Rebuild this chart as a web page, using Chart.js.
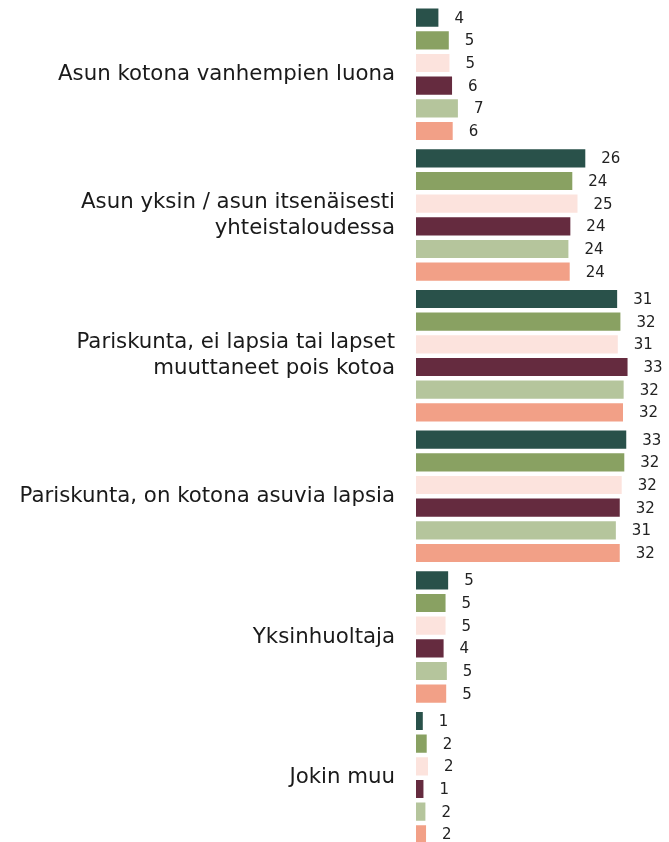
<!DOCTYPE html>
<html>
<head>
<meta charset="utf-8">
<script src="https://cdn.jsdelivr.net/npm/chart.js@4"></script>
<style>
  html, body { margin: 0; padding: 0; background: #fff; overflow: hidden; height: 842px; }
  canvas { display: block; }
</style>
</head>
<body>
<canvas id="chart" width="669" height="848"></canvas>
<script>
const categories = [
  'Asun kotona vanhempien luona',
  ['Asun yksin / asun itsenäisesti', 'yhteistaloudessa'],
  ['Pariskunta, ei lapsia tai lapset', 'muuttaneet pois kotoa'],
  'Pariskunta, on kotona asuvia lapsia',
  'Yksinhuoltaja',
  'Jokin muu'
];

// one array per series, one value per category (percent)
const series1 = [3.6, 26.2, 31.1, 32.5, 5.1, 1.2];
const series2 = [5.2, 24.2, 31.6, 32.2, 4.7, 1.8];
const series3 = [5.3, 25.0, 31.2, 31.8, 4.7, 2.0];
const series4 = [5.7, 23.9, 32.7, 31.5, 4.4, 1.3];
const series5 = [6.6, 23.6, 32.1, 30.9, 4.9, 1.6];
const series6 = [5.8, 23.8, 32.0, 31.5, 4.8, 1.7];

const colors = ['#29514a', '#89a162', '#fce3dd', '#652b3f', '#b5c59c', '#f2a087'];

const mkSet = (label, data, i) => ({
  label: label,
  data: data,
  backgroundColor: colors[i],
  borderColor: 'rgba(255,255,255,0.3)',
  borderWidth: 1,
  barPercentage: 0.89,
  categoryPercentage: 0.967
});

// value labels at the end of each bar
const valueLabels = {
  id: 'valueLabels',
  afterDatasetsDraw(chart) {
    const ctx = chart.ctx;
    ctx.save();
    ctx.font = '15px "DejaVu Sans"';
    ctx.fillStyle = '#222';
    ctx.textAlign = 'left';
    ctx.textBaseline = 'middle';
    chart.data.datasets.forEach((ds, i) => {
      chart.getDatasetMeta(i).data.forEach((bar, j) => {
        ctx.fillText(Math.round(ds.data[j]), bar.x + 15, bar.y + 1);
      });
    });
    ctx.restore();
  }
};

new Chart(document.getElementById('chart').getContext('2d'), {
  type: 'bar',
  plugins: [valueLabels],
  data: {
    labels: categories,
    datasets: [
      mkSet('1', series1, 0),
      mkSet('2', series2, 1),
      mkSet('3', series3, 2),
      mkSet('4', series4, 3),
      mkSet('5', series5, 4),
      mkSet('6', series6, 5)
    ]
  },
  options: {
    indexAxis: 'y',
    responsive: false,
    animation: false,
    layout: { padding: { top: 4, bottom: 0, left: 0, right: 19 } },
    scales: {
      x: { display: false, min: 0, max: 36 },
      y: {
        grid: { display: false, drawTicks: false },
        border: { display: false },
        ticks: {
          color: '#1a1a1a',
          padding: 21,
          font: { family: '"DejaVu Sans"', size: 21.3, lineHeight: 1.22 }
        },
        afterFit: scale => {
          scale.width = 416;
          scale.paddingTop = 0;
          scale.paddingBottom = 0;
        }
      }
    },
    plugins: {
      legend: { display: false },
      tooltip: { enabled: false }
    }
  }
});
</script>
</body>
</html>
